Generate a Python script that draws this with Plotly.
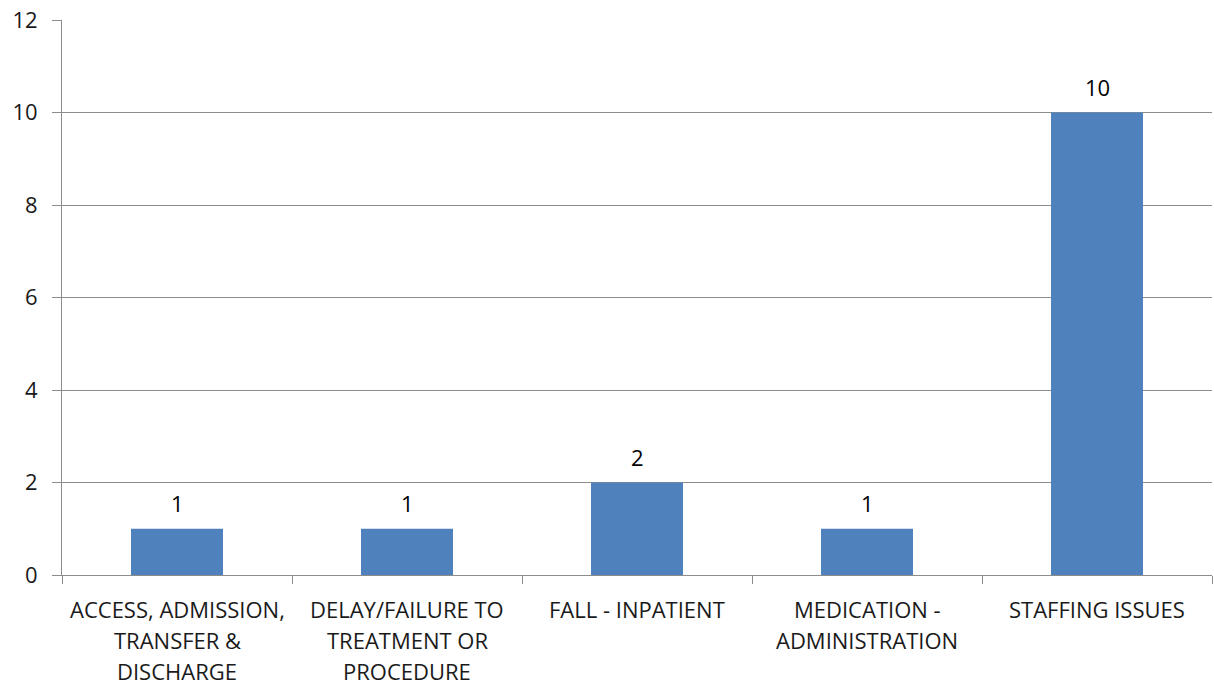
import plotly.graph_objects as go

categories = ["ACCESS, ADMISSION, TRANSFER & DISCHARGE",
              "DELAY/FAILURE TO TREATMENT OR PROCEDURE",
              "FALL - INPATIENT",
              "MEDICATION - ADMINISTRATION",
              "STAFFING ISSUES"]
label_lines = [["ACCESS, ADMISSION,", "TRANSFER &", "DISCHARGE"],
               ["DELAY/FAILURE TO", "TREATMENT OR", "PROCEDURE"],
               ["FALL - INPATIENT"],
               ["MEDICATION -", "ADMINISTRATION"],
               ["STAFFING ISSUES"]]
values = [1, 1, 2, 1, 10]

FONT = "Open Sans"
GRID = "#8c8c8c"
FS = 22

fig = go.Figure(go.Bar(x=categories, y=values, marker_color="#4F81BD",
                       marker_line_width=0, width=0.4))

annotations = []
for c, v in zip(categories, values):
    annotations.append(dict(x=c, y=v, xref="x", yref="y", text=str(v), showarrow=False,
                            yanchor="middle", yshift=26,
                            font=dict(family=FONT, size=FS, color="#000")))
for c, lines in zip(categories, label_lines):
    for i, ln in enumerate(lines):
        annotations.append(dict(x=c, y=0, xref="x", yref="paper", text=ln, showarrow=False,
                                yanchor="middle", yshift=-34 - 31 * i, borderpad=0,
                                font=dict(family=FONT, size=FS, color="#1a1a1a")))

fig.update_layout(
    width=1214, height=687,
    margin=dict(l=62, r=2, t=20, b=112),
    paper_bgcolor="white", plot_bgcolor="white",
    showlegend=False, bargap=0.6,
    annotations=annotations,
    xaxis=dict(type="category", showticklabels=False, tickson="boundaries",
               ticks="outside", ticklen=8, tickcolor=GRID, showgrid=False,
               showline=True, linecolor=GRID, linewidth=1),
    yaxis=dict(range=[0, 12], dtick=2, showgrid=True, gridcolor=GRID, gridwidth=1,
               ticks="outside", ticklen=9, tickcolor=GRID, showline=True, linecolor=GRID,
               linewidth=1, zeroline=False, ticklabelstandoff=10,
               tickfont=dict(family=FONT, size=FS, color="#1a1a1a")),
)
fig.write_html("out.html")
